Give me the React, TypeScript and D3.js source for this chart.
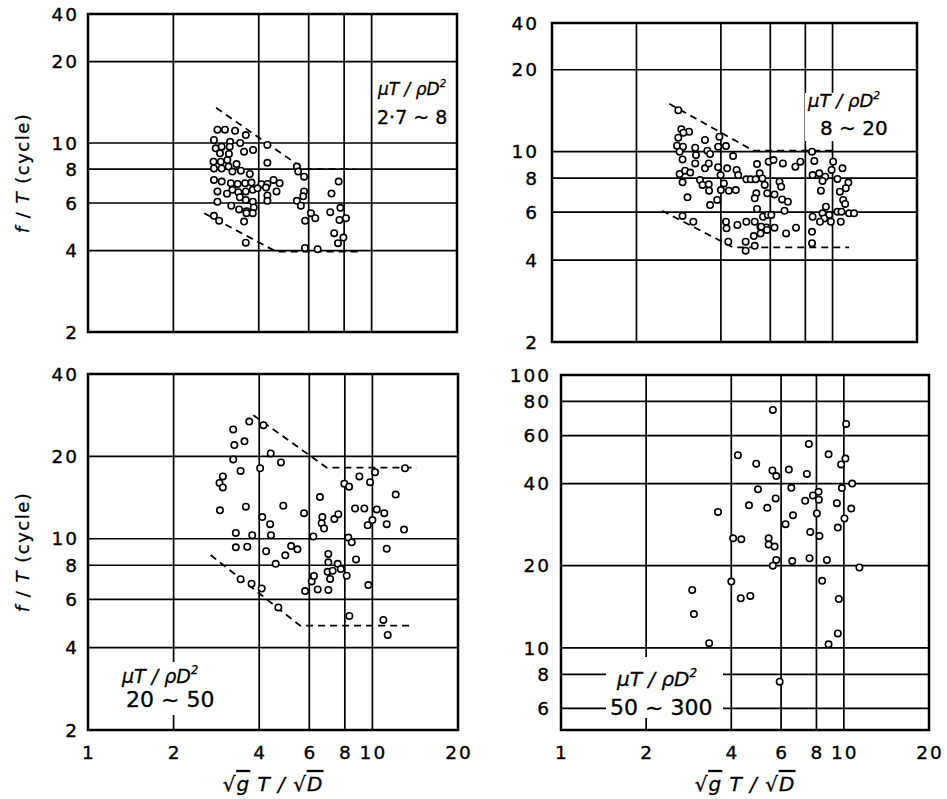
import React from "react";
import * as d3 from "d3";

type Pt = [number, number];

// ---------- tick / grid values ----------
const xTickValues = [1, 2, 4, 6, 8, 10, 20];
const xGridValues = [2, 4, 6, 8, 10];
const yTicksTrunc = [2, 4, 6, 8, 10, 20];
const yGridTrunc = [4, 6, 8, 10, 20];
const yTicksBL = [2, 4, 6, 8, 10, 20, 40];
const yGridBL = [4, 6, 8, 10, 20];
const yTicksBR = [6, 8, 10, 20, 40, 60, 80, 100];
const yGridBR = [6, 8, 10, 20, 40, 60, 80];
const rangeLabels = ["2·7 ~ 8", "8 ~ 20", "20 ~ 50", "50 ~ 300"];

// ---------- data : [√g T/√D , f/T] ----------
const pointsTL: Pt[] = [
  [2.86, 11.2], [3.04, 11.2], [3.3, 11.1], [3.6, 10.7], [2.78, 10.26], [3.17, 10.1], [3.44, 10.0], [4.29, 9.83],
  [2.82, 9.56], [2.96, 9.69], [3.16, 9.69], [2.92, 9.16], [3.14, 9.11], [3.55, 9.29], [3.82, 9.42],
  [2.77, 8.53], [2.94, 8.53], [3.1, 8.65], [3.34, 8.36], [4.29, 8.45], [2.78, 8.05], [2.96, 8.05], [3.13, 8.18],
  [3.23, 7.84], [3.46, 7.9], [3.72, 7.68], [2.78, 7.3], [2.96, 7.2], [3.19, 7.1], [3.37, 7.06], [3.58, 7.1],
  [3.77, 7.14], [4.09, 7.04], [4.29, 7.06], [4.51, 7.3], [4.74, 7.1], [2.86, 6.62], [3.09, 6.49], [3.23, 6.71],
  [3.39, 6.58], [3.6, 6.62], [3.81, 6.71], [3.96, 6.8], [4.24, 6.84], [4.62, 6.62], [2.86, 6.07], [3.2, 5.86],
  [3.43, 6.3], [3.6, 6.16], [3.81, 6.07], [4.29, 6.4], [4.29, 6.11], [3.41, 5.68], [3.62, 5.59], [3.84, 5.78],
  [3.62, 5.5], [3.81, 5.5], [2.78, 5.38], [2.9, 5.16], [3.55, 5.12], [3.6, 4.28],
  [5.45, 8.18], [5.51, 7.84], [5.78, 7.51], [5.78, 6.62], [5.74, 6.35], [5.45, 6.11], [5.63, 5.86], [6.11, 5.5],
  [6.33, 5.27], [5.83, 5.16], [5.82, 4.09], [6.45, 4.05],
  [7.65, 7.2], [7.22, 6.5], [7.76, 5.76], [7.15, 5.55], [7.7, 5.19], [8.12, 5.27], [7.38, 4.64], [7.95, 4.47], [7.61, 4.26],
];

const pointsTR: Pt[] = [
  [2.82, 14.2], [2.89, 12.1], [3.08, 11.84], [2.94, 11.74], [2.82, 11.26], [2.79, 10.52], [2.93, 10.43], [2.85, 10.0],
  [2.92, 9.37], [3.24, 10.34], [3.26, 9.72], [3.51, 11.04], [3.58, 10.08], [3.66, 9.81], [3.95, 11.35], [4.17, 10.49],
  [4.42, 9.64], [3.91, 10.43], [2.85, 8.28], [2.98, 8.52], [3.11, 8.38], [2.92, 7.72], [3.24, 9.06], [3.51, 8.69],
  [3.62, 9.06], [3.91, 8.77], [4.21, 8.69], [4.55, 8.57], [3.99, 8.21], [4.61, 8.21], [4.1, 7.65], [4.0, 7.23],
  [4.27, 7.19], [4.52, 7.23], [3.37, 7.87], [3.44, 7.55], [3.62, 7.59], [3.63, 7.19], [3.66, 6.37], [3.88, 6.65],
  [3.04, 6.8], [4.93, 7.92], [5.11, 7.92], [5.32, 7.92], [5.38, 9.01], [5.5, 8.33], [5.62, 7.98], [5.73, 7.55],
  [5.35, 7.03], [5.28, 6.74], [5.38, 6.16], [5.54, 5.01], [5.53, 5.3], [5.65, 5.77], [5.88, 5.86], [6.05, 5.86],
  [5.81, 5.27], [5.85, 7.03], [6.21, 6.97], [6.47, 7.76], [6.56, 7.44], [6.61, 6.68], [6.74, 6.07], [6.93, 6.55],
  [5.92, 9.19], [6.16, 9.32], [6.65, 9.06], [7.37, 8.81], [7.68, 9.19], [8.45, 10.0], [8.61, 9.25], [8.49, 8.21],
  [8.97, 8.33], [9.42, 8.09], [10.05, 9.19], [9.92, 8.57], [10.41, 7.94], [10.85, 8.69], [11.39, 7.7], [11.15, 7.34],
  [10.62, 7.13], [9.21, 7.81], [9.09, 7.19], [10.91, 6.65], [11.09, 6.43], [11.45, 5.94], [11.93, 5.94], [10.41, 6.02],
  [10.76, 6.02], [9.47, 6.28], [9.21, 5.94], [9.73, 5.86], [9.34, 5.69], [9.86, 5.53], [9.02, 5.53], [8.49, 5.77],
  [10.7, 5.53], [4.93, 5.53], [5.28, 5.53], [5.57, 5.3], [5.84, 5.16], [6.21, 5.26], [6.83, 5.01], [7.41, 5.26],
  [4.17, 5.53], [4.19, 5.23], [4.58, 5.38], [5.24, 4.9], [4.25, 4.67], [4.9, 4.67], [5.28, 4.51], [4.9, 4.33],
  [8.45, 5.08], [8.45, 4.61], [2.92, 5.81], [3.19, 5.53],
];

const pointsBL: Pt[] = [
  [3.24, 25.1], [3.27, 22.0], [3.55, 22.7], [3.69, 26.8], [4.14, 26.0], [3.24, 19.5], [3.44, 17.7], [4.03, 18.1],
  [4.39, 20.5], [4.77, 19.0], [2.98, 16.9], [2.9, 16.0], [2.98, 15.4], [2.91, 12.7], [3.59, 13.1], [4.86, 13.2],
  [4.1, 12.0], [4.37, 11.3], [3.31, 10.5], [3.78, 10.3], [4.4, 10.3], [3.31, 9.3], [3.63, 9.35], [4.23, 9.0],
  [4.94, 8.7], [5.18, 9.4], [5.45, 9.15], [4.57, 8.1], [3.44, 7.11], [3.76, 6.85], [4.08, 6.58], [4.67, 5.61],
  [5.75, 12.4], [6.54, 14.2], [6.2, 10.2], [6.67, 12.0], [6.63, 11.4], [6.76, 10.9], [7.35, 11.8], [7.59, 12.3],
  [7.0, 8.8], [7.0, 8.2], [6.96, 7.57], [7.1, 7.13], [7.25, 7.64], [7.55, 8.1], [7.74, 7.75], [8.12, 7.33],
  [6.12, 6.98], [6.23, 7.31], [6.42, 6.53], [5.8, 6.44], [7.0, 6.5], [7.97, 15.9], [8.28, 15.5], [9.0, 16.9],
  [10.22, 17.5], [9.81, 16.1], [8.69, 12.9], [9.37, 12.9], [10.36, 12.8], [9.63, 11.2], [10.0, 11.7], [11.01, 12.4],
  [11.23, 11.3], [12.08, 14.5], [12.92, 10.8], [13.02, 18.1], [8.23, 10.1], [8.46, 9.7], [8.76, 8.4], [11.23, 9.2],
  [9.68, 6.77], [8.3, 5.22], [10.93, 5.05], [11.32, 4.45],
];

const pointsBR: Pt[] = [
  [5.61, 74.5], [10.19, 66.2], [7.52, 55.9], [4.22, 50.8], [8.83, 51.2], [4.9, 47.3], [5.59, 44.7], [5.77, 42.6],
  [6.39, 45.0], [7.4, 43.4], [10.13, 49.4], [9.78, 47.0], [4.97, 38.1], [6.52, 38.6], [10.7, 40.0], [9.84, 38.5],
  [4.62, 33.3], [5.36, 32.6], [5.74, 35.3], [7.3, 34.6], [7.77, 36.2], [8.14, 37.3], [8.16, 34.9], [9.45, 33.9],
  [3.59, 31.5], [6.22, 28.4], [6.61, 30.6], [8.03, 31.1], [10.05, 29.8], [10.62, 32.4], [9.52, 27.6], [4.06, 25.2],
  [4.34, 25.0], [5.42, 25.2], [5.42, 23.9], [5.69, 23.5], [7.61, 26.6], [8.2, 25.7], [5.77, 21.0], [5.61, 20.0],
  [6.57, 20.8], [7.56, 21.3], [8.71, 21.0], [11.35, 19.7], [4.0, 17.5], [8.38, 17.6], [2.91, 16.3], [4.32, 15.2],
  [4.67, 15.5], [9.6, 15.1], [2.95, 13.3], [3.34, 10.4], [9.52, 11.3], [8.83, 10.3], [5.93, 7.52],
];

// dashed envelopes
const upperTL: Pt[] = [[2.83, 13.5], [5.78, 8.0], [8.7, 8.0]];
const lowerTL: Pt[] = [[2.57, 5.5], [4.6, 3.97], [9.2, 3.97]];
const upperTR: Pt[] = [[2.62, 15.0], [5.21, 10.1], [10.3, 10.1]];
const lowerTR: Pt[] = [[2.47, 6.07], [4.42, 4.45], [11.45, 4.45]];
const upperBL: Pt[] = [[3.81, 28.3], [6.91, 18.2], [14.3, 18.2]];
const lowerBL: Pt[] = [[2.7, 8.72], [5.57, 4.81], [13.75, 4.81]];

// ---------- layout ----------
type PanelCfg = {
  x0: number; x1: number; y0: number; y1: number;
  yDomain: [number, number];
  yTicks: number[]; yGrid: number[]; topLabel?: string;
  pts: Pt[]; envelopes: Pt[][];
  labelRight: number;
  showX: boolean; showYTitle: boolean;
  ann: { x1: number; b1: number; x2: number; b2: number; s1: number; s2: number; box: [number, number, number, number] };
  range: string;
};

const panels: PanelCfg[] = [
  {
    x0: 88, x1: 457, y0: 14, y1: 332, yDomain: [2, 30], yTicks: yTicksTrunc, yGrid: yGridTrunc, topLabel: "40",
    pts: pointsTL, envelopes: [upperTL, lowerTL], labelRight: 79, showX: false, showYTitle: true,
    ann: { x1: 378, b1: 95, x2: 377, b2: 124, s1: 17, s2: 19, box: [376, 76, 452, 128] }, range: rangeLabels[0],
  },
  {
    x0: 552, x1: 917, y0: 23, y1: 342, yDomain: [2, 29.7], yTicks: yTicksTrunc, yGrid: yGridTrunc, topLabel: "40",
    pts: pointsTR, envelopes: [upperTR, lowerTR], labelRight: 539, showX: false, showYTitle: false,
    ann: { x1: 808, b1: 107, x2: 820, b2: 135, s1: 18, s2: 20, box: [805, 93, 892, 141] }, range: rangeLabels[1],
  },
  {
    x0: 88, x1: 458, y0: 374, y1: 730, yDomain: [2, 40], yTicks: yTicksBL, yGrid: yGridBL,
    pts: pointsBL, envelopes: [upperBL, lowerBL], labelRight: 79, showX: true, showYTitle: true,
    ann: { x1: 122, b1: 683, x2: 126, b2: 707, s1: 19, s2: 22, box: [114, 662, 214, 715] }, range: rangeLabels[2],
  },
  {
    x0: 561, x1: 929, y0: 375, y1: 730, yDomain: [5, 100], yTicks: yTicksBR, yGrid: yGridBR,
    pts: pointsBR, envelopes: [], labelRight: 551, showX: true, showYTitle: false,
    ann: { x1: 617, b1: 686, x2: 610, b2: 715, s1: 20, s2: 22, box: [606, 657, 723, 718] }, range: rangeLabels[3],
  },
];

const tickFont = "'DejaVu Sans', 'Liberation Sans', sans-serif";

function Panel({ p }: { p: PanelCfg }) {
  const x = d3.scaleLog().domain([1, 20]).range([p.x0, p.x1]);
  const y = d3.scaleLog().domain(p.yDomain).range([p.y1, p.y0]);
  const line = d3.line<Pt>().x((d) => x(d[0])).y((d) => y(d[1]));
  const [bx0, by0, bx1, by1] = p.ann.box;
  const xc = (x(1) + x(20)) / 2;
  const yc = (p.y0 + p.y1) / 2;
  const tickProps = { fontFamily: tickFont, fontSize: 18.5, letterSpacing: 2, stroke: "#000", strokeWidth: 0.35 };
  return (
    <g>
      {p.yGrid.map((v) => (
        <line key={"h" + v} x1={p.x0} x2={p.x1} y1={y(v)} y2={y(v)} stroke="#000" strokeWidth={1.7} />
      ))}
      {xGridValues.map((v) => (
        <line key={"v" + v} x1={x(v)} x2={x(v)} y1={p.y0} y2={p.y1} stroke="#000" strokeWidth={1.7} />
      ))}
      <rect x={bx0} y={by0} width={bx1 - bx0} height={by1 - by0} fill="#fff" />
      {p.envelopes.map((e, i) => (
        <path key={"e" + i} d={line(e) || ""} fill="none" stroke="#000" strokeWidth={1.8} strokeDasharray="7 5" />
      ))}
      {p.pts.map((d, i) => (
        <circle key={"c" + i} cx={x(d[0])} cy={y(d[1])} r={3.2} fill="#fff" stroke="#000" strokeWidth={1.6} />
      ))}
      <rect x={p.x0} y={p.y0} width={p.x1 - p.x0} height={p.y1 - p.y0} fill="none" stroke="#000" strokeWidth={2.5} />
      {p.yTicks.map((v) => (
        <text key={"yt" + v} x={p.labelRight} y={y(v)} dy="0.36em" textAnchor="end" {...tickProps}>{v}</text>
      ))}
      {p.topLabel && (
        <text x={p.labelRight} y={p.y0} dy="0.36em" textAnchor="end" {...tickProps}>{p.topLabel}</text>
      )}
      {p.showX && xTickValues.map((v) => (
        <text key={"xt" + v} x={x(v) + 1} y={759} textAnchor="middle" {...tickProps}>{v}</text>
      ))}
      {p.showX && (
        <text x={xc} y={791} textAnchor="middle" fontFamily={tickFont} fontSize={20} fontStyle="italic"
          letterSpacing={1} stroke="#000" strokeWidth={0.3}>
          √<tspan textDecoration="overline">g</tspan> T / √<tspan textDecoration="overline">D</tspan>
        </text>
      )}
      {p.showYTitle && (
        <text transform={`translate(29,${yc}) rotate(-90)`} textAnchor="middle" fontFamily={tickFont} fontSize={18}
          letterSpacing={1.5} stroke="#000" strokeWidth={0.3}>
          <tspan fontStyle="italic">f</tspan> / <tspan fontStyle="italic">T</tspan>{"  (cycle)"}
        </text>
      )}
      <text x={p.ann.x1} y={p.ann.b1} fontFamily={tickFont} fontSize={p.ann.s1} fontStyle="italic"
        stroke="#000" strokeWidth={0.3}>
        μT / ρD<tspan fontSize={p.ann.s1 * 0.6} dy={-p.ann.s1 * 0.45}>2</tspan>
      </text>
      <text x={p.ann.x2} y={p.ann.b2} fontFamily={tickFont} fontSize={p.ann.s2} stroke="#000" strokeWidth={0.3}>{p.range}</text>
    </g>
  );
}

export default function App() {
  return (
    <svg width={947} height={799} viewBox="0 0 947 799"
      style={{ position: "absolute", left: 0, top: 0, background: "#fff" }}>
      <rect x={0} y={0} width={947} height={799} fill="#fff" />
      {panels.map((p, i) => (
        <Panel key={i} p={p} />
      ))}
    </svg>
  );
}
